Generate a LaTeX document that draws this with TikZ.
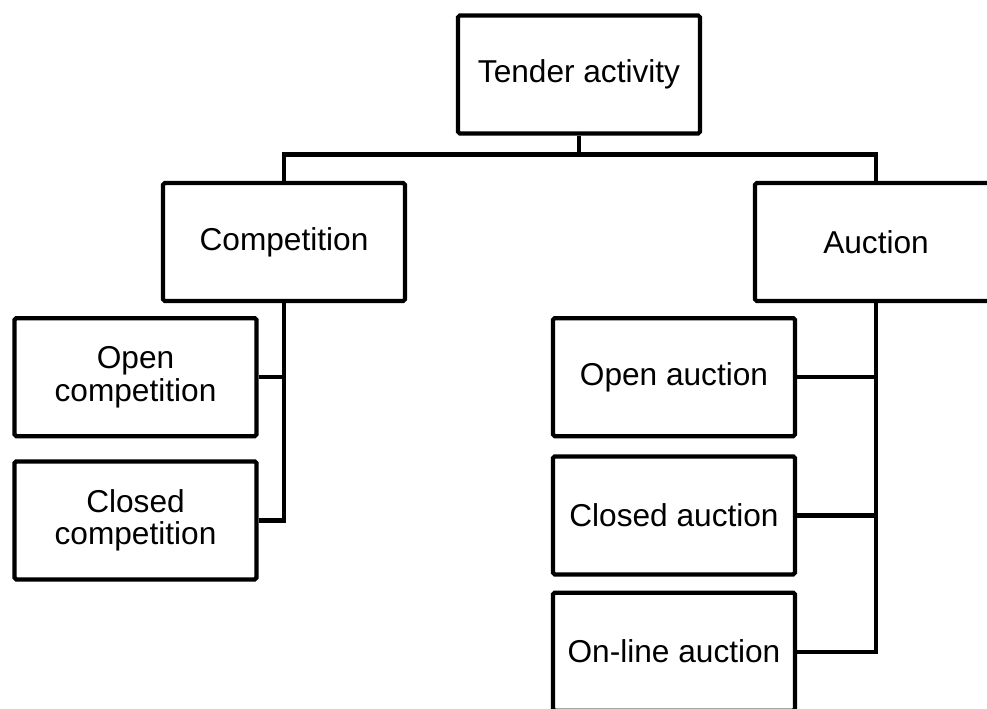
\documentclass[tikz,border=0pt]{standalone}
\usepackage{fontspec}
\setmainfont{Liberation Sans}
\usetikzlibrary{positioning, calc}
\tikzset{
    box/.style={
        rectangle, draw=black, line width=2.4pt, rounded corners=1pt, fill=white,
        minimum width=4.84cm, minimum height=2.36cm, align=center,
        font=\fontsize{18pt}{18.5pt}\selectfont
    },
    link/.style={draw=black, line width=2.4pt}
}
\begin{document}
\begin{tikzpicture}

% Page frame
\useasboundingbox (0,0) rectangle (19.74,-14.18);
\clip (0,0) rectangle (19.74,-14.18);

% Top level
\node[box] (tender) at (11.58,-1.49) {Tender activity};

% Second level
\node[box] (comp) at (5.68,-4.84) {Competition};
\node[box] (auction) at (17.52,-4.84) {Auction};

% Competition branch
\node[box, below=0.26cm of comp, xshift=-2.97cm] (opencomp) {Open\\competition};
\node[box, below=0.42cm of opencomp] (closedcomp) {Closed\\competition};

% Auction branch
\node[box, below=0.26cm of auction, xshift=-4.04cm] (openauc) {Open auction};
\node[box, below=0.32cm of openauc] (closedauc) {Closed auction};
\node[box, below=0.28cm of closedauc] (onlineauc) {On-line auction};

% Connections
\coordinate (bus) at ($(tender.south)+(0,-0.38)$);
\draw[link] (tender.south) -- (bus);
\draw[link] (comp.north) |- (bus) -| (auction.north);
\draw[link] (comp.south) |- (closedcomp.east);
\draw[link] (opencomp.east) -| (comp.south);
\draw[link] (auction.south) |- (onlineauc.east);
\draw[link] (openauc.east) -| (auction.south);
\draw[link] (closedauc.east) -| (auction.south);

\end{tikzpicture}
\end{document}
